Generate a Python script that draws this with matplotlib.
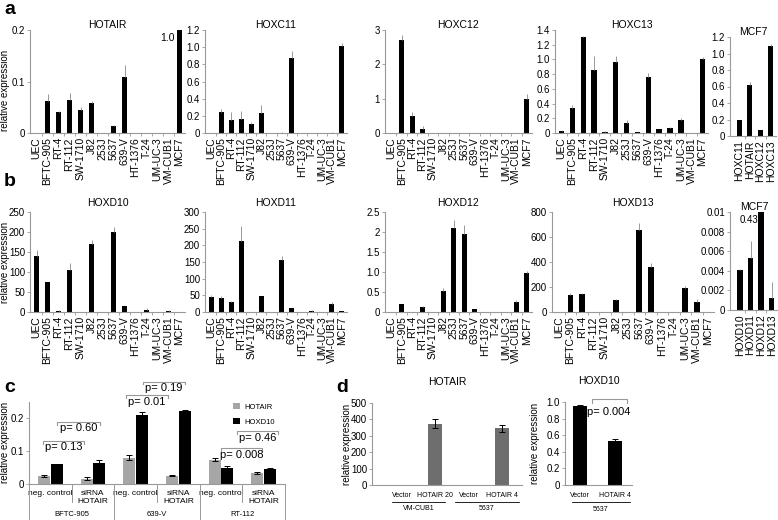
import matplotlib
matplotlib.use('Agg')
import matplotlib.pyplot as plt
import matplotlib.transforms as mtransforms
import numpy as np

plt.rcParams['font.family'] = ['Liberation Sans', 'DejaVu Sans']

# ---- data ----
cell_lines = ['UEC', 'BFTC-905', 'RT-4', 'RT-112', 'SW-1710', 'J82', '253J', '5637',
              '639-V', 'HT-1376', 'T-24', 'UM-UC-3', 'VM-CUB1', 'MCF7']

hotair = [0, 0.063, 0.040, 0.064, 0.045, 0.058, 0, 0.013, 0.108, 0, 0, 0, 0, 1.0]
hotair_err = [0, 0.012, 0.002, 0.014, 0.005, 0.005, 0, 0.003, 0.024, 0, 0, 0, 0, 0.02]
hoxc11 = [0, 0.25, 0.15, 0.16, 0.11, 0.23, 0, 0.005, 0.87, 0, 0, 0, 0.005, 1.01]
hoxc11_err = [0, 0.03, 0.10, 0.10, 0.015, 0.10, 0, 0.01, 0.08, 0, 0, 0, 0.01, 0.04]
hoxc12 = [0.005, 2.70, 0.50, 0.12, 0, 0, 0, 0, 0, 0, 0, 0, 0, 1.0]
hoxc12_err = [0, 0.15, 0.10, 0.08, 0, 0, 0, 0, 0, 0, 0, 0, 0, 0.15]
hoxc13 = [0.03, 0.34, 1.30, 0.86, 0.02, 0.97, 0.13, 0.01, 0.76, 0.05, 0.07, 0.18, 0.005, 1.0]
hoxc13_err = [0.01, 0.04, 0.02, 0.18, 0.01, 0.08, 0.04, 0, 0.05, 0.01, 0.01, 0.03, 0, 0.03]
mcf7_c_labels = ['HOXC11', 'HOTAIR', 'HOXC12', 'HOXC13']
mcf7_c = [0.20, 0.62, 0.07, 1.09]
mcf7_c_err = [0, 0.03, 0, 0.02]

hoxd10 = [140, 76, 3, 106, 0, 171, 1, 200, 14, 1, 6, 0, 3, 1]
hoxd10_err = [14, 0, 1, 17, 0, 9, 0, 13, 2, 0, 3, 0, 1, 0]
hoxd11 = [46, 43, 29, 214, 1, 49, 0, 157, 11, 0, 4, 0, 25, 2]
hoxd11_err = [4, 6, 4, 45, 0, 0, 0, 10, 2, 0, 3, 0, 4, 0]
hoxd12 = [0, 0.20, 0, 0.12, 0, 0.53, 2.11, 1.95, 0.08, 0, 0, 0, 0.26, 0.98]
hoxd12_err = [0, 0, 0, 0.02, 0, 0.07, 0.20, 0.22, 0, 0, 0, 0, 0.03, 0.05]
hoxd13 = [0, 136, 144, 0, 0, 100, 0, 656, 360, 0, 0, 192, 79, 1]
hoxd13_err = [0, 20, 12, 0, 0, 5, 0, 55, 30, 0, 0, 20, 22, 0]
mcf7_d_labels = ['HOXD10', 'HOXD11', 'HOXD12', 'HOXD13']
mcf7_d = [0.0041, 0.0053, 0.43, 0.0012]
mcf7_d_err = [0.0001, 0.0017, 0, 0.0017]

c_groups = ['BFTC-905', '639-V', 'RT-112']
c_conds = ['neg. control', 'siRNA\nHOTAIR']
c_hotair = [0.025, 0.016, 0.080, 0.025, 0.074, 0.034]
c_hotair_err = [0.003, 0.005, 0.008, 0.001, 0.004, 0.004]
c_hoxd10 = [0.060, 0.063, 0.211, 0.224, 0.050, 0.045]
c_hoxd10_err = [0.001, 0.009, 0.007, 0.003, 0.005, 0.005]
c_pvals = ['p= 0.13', 'p= 0.60', 'p= 0.01', 'p= 0.19', 'p= 0.008', 'p= 0.46']
c_brackets = [(-0.17, 0.80, 0.131), (0.16, 1.16, 0.189), (1.78, 2.75, 0.270),
              (2.18, 3.15, 0.312), (4.00, 4.95, 0.109), (4.38, 5.33, 0.161)]

d_hotair_labels = ['Vector', 'HOTAIR 20', 'Vector', 'HOTAIR 4']
d_hotair = [1, 375, 1, 345]
d_hotair_err = [0, 30, 0, 20]
d_hoxd10_labels = ['Vector', 'HOTAIR 4']
d_hoxd10 = [0.95, 0.53]
d_hoxd10_err = [0.015, 0.03]

W, H = 778, 520
fig = plt.figure(figsize=(W / 100, H / 100), dpi=100)
GREY = '#999999'


def add_ax(x0, x1, y0, y1):
    return fig.add_axes([x0 / W, 1 - y1 / H, (x1 - x0) / W, (y1 - y0) / H])


def style(ax):
    for s in ['top', 'right']:
        ax.spines[s].set_visible(False)
    for s in ['left', 'bottom']:
        ax.spines[s].set_color(GREY)
        ax.spines[s].set_linewidth(0.8)
    ax.tick_params(axis='y', length=2, width=0.6, color=GREY, labelsize=7, pad=1.5)
    ax.tick_params(axis='x', length=0, labelsize=7.5, pad=3)


def bar_panel(ax, labels, vals, errs, ymax, step, fmt, title, pad, xlim):
    x = np.arange(len(labels))
    ax.bar(x, vals, width=0.5, color='black')
    ax.errorbar(x, vals, yerr=[np.zeros(len(errs)), errs], fmt='none',
                ecolor=GREY, elinewidth=0.7, capsize=0)
    ax.set_xlim(*xlim)
    ax.set_ylim(0, ymax)
    ticks = np.arange(0, ymax + step / 2, step)
    ax.set_yticks(ticks)
    ax.set_yticklabels([fmt(t) for t in ticks])
    ax.set_xticks(x)
    ax.set_xticklabels(labels, rotation=90)
    ax.set_xticks(x[:-1] + 0.5, minor=True)
    style(ax)
    ax.tick_params(axis='x', which='minor', length=2, color=GREY)
    ax.set_title(title, fontsize=7.5, pad=pad)


def f_dec(t):
    return '0' if t == 0 else f'{t:.1f}'


def f_int(t):
    return f'{t:g}'


# ---- row a ----
row_a = [(30, 185, hotair, hotair_err, 0.2, 0.1, f_dec, 'HOTAIR'),
         (205, 347, hoxc11, hoxc11_err, 1.2, 0.2, f_dec, 'HOXC11'),
         (385, 532, hoxc12, hoxc12_err, 3, 1, f_int, 'HOXC12'),
         (555, 708, hoxc13, hoxc13_err, 1.4, 0.2, f_dec, 'HOXC13')]
axes_a = []
for x0, x1, v, e, ymax, step, fmt, title in row_a:
    ax = add_ax(x0, x1, 30, 133)
    bar_panel(ax, cell_lines, v, e, ymax, step, fmt, title, 1, (-0.6, 13.5))
    axes_a.append(ax)
axes_a[0].text(12.6, 0.184, '1.0', ha='right', va='center', fontsize=7.5)

ax = add_ax(730, 776, 37, 136)
bar_panel(ax, mcf7_c_labels, mcf7_c, mcf7_c_err, 1.2, 0.2, f_dec, 'MCF7', 1, (-0.9, 3.5))

# ---- row b ----
row_b = [(30, 185, hoxd10, hoxd10_err, 250, 50, f_int, 'HOXD10'),
         (205, 347, hoxd11, hoxd11_err, 300, 50, f_int, 'HOXD11'),
         (385, 532, hoxd12, hoxd12_err, 2.5, 0.5,
          lambda t: {0: '0', 2.0: '2'}.get(t, f'{t:.1f}'), 'HOXD12'),
         (552, 714, hoxd13, hoxd13_err, 800, 200, f_int, 'HOXD13')]
for x0, x1, v, e, ymax, step, fmt, title in row_b:
    ax = add_ax(x0, x1, 212, 312)
    bar_panel(ax, cell_lines, v, e, ymax, step, fmt, title, 4, (-0.6, 13.5))

ax = add_ax(730, 778, 212, 310)
bar_panel(ax, mcf7_d_labels, mcf7_d, mcf7_d_err, 0.01, 0.002,
          lambda t: '0' if t == 0 else f'{t:g}', 'MCF7', 1, (-0.95, 3.6))
ax.text(1.72, 0.0097, '0.43', ha='right', va='top', fontsize=7)

# ---- panel c ----
axc = add_ax(29, 285, 402, 484)
xc = np.arange(len(c_hotair))
axc.bar(xc - 0.15, c_hotair, width=0.28, color='#a6a6a6', label='HOTAIR')
axc.bar(xc + 0.15, c_hoxd10, width=0.28, color='black', label='HOXD10')
axc.errorbar(xc - 0.15, c_hotair, yerr=c_hotair_err, fmt='none', ecolor='black',
             elinewidth=0.7, capsize=2, capthick=0.7)
axc.errorbar(xc + 0.15, c_hoxd10, yerr=c_hoxd10_err, fmt='none', ecolor='black',
             elinewidth=0.7, capsize=2, capthick=0.7)
axc.set_xlim(-0.5, 5.5)
axc.set_ylim(0, 0.25)
axc.set_yticks([0, 0.1, 0.2])
axc.set_yticklabels(['0', '0.1', '0.2'])
style(axc)
axc.set_xticks(xc)
axc.set_xticklabels(c_conds * len(c_groups), fontsize=6)
axc.tick_params(axis='x', pad=4)
trc = mtransforms.blended_transform_factory(axc.transData, axc.transAxes)
for b in np.arange(-0.5, 6, 1.0):
    low = -0.44 if int(b + 0.5) % 2 == 0 else -0.22
    axc.plot([b, b], [0, low], color=GREY, lw=0.7, transform=trc, clip_on=False)
for i, g in enumerate(c_groups):
    axc.text(2 * i + 0.5, -0.37, g, transform=trc, ha='center', va='center', fontsize=5.5)
for (x1, x2, y), p in zip(c_brackets, c_pvals):
    axc.plot([x1, x1, x2, x2], [y - 0.008, y, y, y - 0.008], color=GREY, lw=0.8, clip_on=False)
    axc.text((x1 + x2) / 2, y - 0.004, p, ha='center', va='top', fontsize=8)
axc.legend(loc='upper left', bbox_to_anchor=(0.77, 1.07), frameon=False, fontsize=5.5,
           handlelength=0.9, handleheight=0.9, labelspacing=0.9, handletextpad=0.6)

# ---- panel d ----
axd = add_ax(372, 522, 403, 485)
xd = np.arange(len(d_hotair))
axd.bar(xd, d_hotair, width=0.42, color='#6e6e6e')
axd.errorbar(xd, d_hotair, yerr=d_hotair_err, fmt='none', ecolor='black',
             elinewidth=0.7, capsize=2, capthick=0.7)
axd.set_xlim(-0.9, 3.6)
axd.set_ylim(0, 500)
axd.set_yticks(np.arange(0, 501, 100))
style(axd)
axd.set_xticks(xd)
axd.set_xticklabels(d_hotair_labels, fontsize=5)
axd.tick_params(axis='x', pad=5)
axd.set_title('HOTAIR', fontsize=7.5, pad=13)
trd = mtransforms.blended_transform_factory(axd.transData, axd.transAxes)
for (a, b), g in zip([(-0.3, 1.3), (1.6, 3.5)], ['VM-CUB1', '5637']):
    axd.plot([a, b], [-0.207, -0.207], color='black', lw=0.6, transform=trd, clip_on=False)
    axd.text((a + b) / 2, -0.29, g, transform=trd, ha='center', va='center', fontsize=5)

axe = add_ax(565, 632, 402, 485)
xe = np.arange(len(d_hoxd10))
axe.bar(xe, d_hoxd10, width=0.42, color='black')
axe.errorbar(xe, d_hoxd10, yerr=d_hoxd10_err, fmt='none', ecolor='black',
             elinewidth=0.7, capsize=2, capthick=0.7)
axe.set_xlim(-0.43, 1.49)
axe.set_ylim(0, 1.0)
axe.set_yticks(np.arange(0, 1.01, 0.2))
axe.set_yticklabels(['0', '0.2', '0.4', '0.6', '0.8', '1.0'])
style(axe)
axe.set_xticks(xe)
axe.set_xticklabels(d_hoxd10_labels, fontsize=5)
axe.tick_params(axis='x', pad=5)
axe.set_title('HOXD10', fontsize=7.5, pad=13)
tre = mtransforms.blended_transform_factory(axe.transData, axe.transAxes)
axe.plot([-0.23, 1.43], [-0.207, -0.207], color='black', lw=0.6, transform=tre, clip_on=False)
axe.text(0.6, -0.29, '5637', transform=tre, ha='center', va='center', fontsize=5)
axe.plot([0.34, 0.34, 1.34, 1.34], [0.99, 1.036, 1.036, 0.99], color=GREY, lw=0.8, clip_on=False)
axe.text(0.82, 0.88, 'p= 0.004', ha='center', va='center', fontsize=8)

# ---- panel letters and y labels ----
for lx, ly, s in [(4, 10, 'a'), (4, 182, 'b'), (4, 387, 'c'), (336, 387, 'd')]:
    fig.text(lx / W, 1 - ly / H, s, fontsize=14, fontweight='bold', va='center')
for lx, ly in [(5, 90), (5, 262), (5, 442), (347, 444), (535, 443)]:
    fig.text(lx / W, 1 - ly / H, 'relative expression', rotation=90,
             ha='center', va='center', fontsize=7)

fig.savefig('out.png', dpi=100)
